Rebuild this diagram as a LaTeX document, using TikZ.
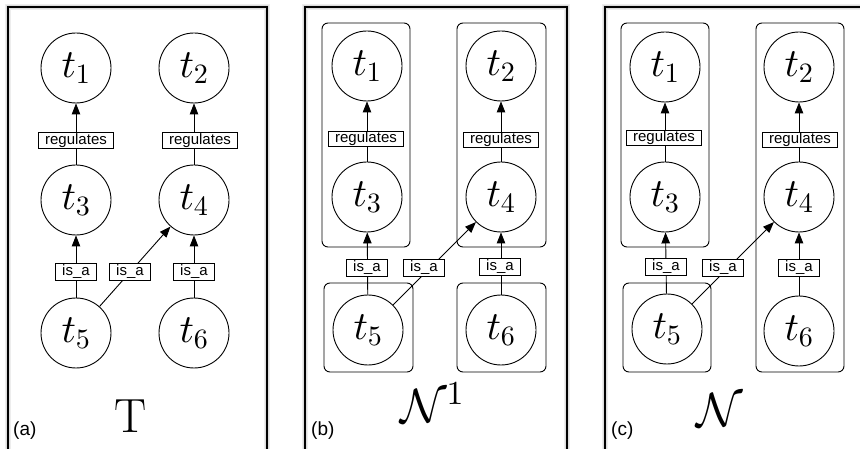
\documentclass[tikz,border=0pt]{standalone}
\usepackage{fontspec}
\newfontfamily\labfont{Liberation Sans}
% let the math fonts scale freely to large sizes
\DeclareFontShape{OML}{cmm}{m}{it}{<-> cmmi10}{}
\DeclareFontShape{OMS}{cmsy}{m}{n}{<-> cmsy10}{}
\DeclareFontShape{OT1}{cmr}{m}{n}{<-> cmr10}{}
\usetikzlibrary{arrows.meta,fit}

\begin{document}
\begin{tikzpicture}[x=1pt,y=-1pt,
  term/.style={circle, draw, line width=0.9pt, minimum size=70pt, inner sep=0pt,
               font=\fontsize{40}{48}\selectfont},
  rel/.style={draw, fill=white, line width=0.8pt, inner xsep=6.5pt, inner ysep=0.8pt,
              font=\fontsize{15}{18}\selectfont\labfont},
  isa/.style={rel, text height=11pt, text depth=4.2pt},
  regl/.style={rel, text height=10.8pt, text depth=3.2pt},
  link/.style={line width=0.9pt, -{Triangle[length=11pt,width=8.5pt]}},
  group/.style={draw, rounded corners=6pt, line width=0.9pt, inner sep=0pt},
  panel/.style={draw, line width=1.2pt},
  haze/.style={draw=black, opacity=0.07, line width=#1},
  tag/.style={font=\fontsize{19}{22}\selectfont\labfont, anchor=base west, inner sep=0pt},
  sym/.style={font=\fontsize{48}{52}\selectfont, anchor=base, inner sep=0pt},
]
\useasboundingbox (0,0) rectangle (860,449);
\clip (0,0) rectangle (860,449);

% soft-edged panel frames
\foreach \xa/\xb in {8/267, 305/567, 605/867}{
  \foreach \w in {6,3.5}{
    \draw[haze=\w pt] (\xa,7) rectangle (\xb,480);
  }
  \draw[panel] (\xa,7) rectangle (\xb,480);
}

% ---------- panel (a): the taxonomy T ----------
\node[term] (a1) at (76,68)  {$t_1$};
\node[term] (a2) at (194,68) {$t_2$};
\node[term] (a3) at (76,200) {$t_3$};
\node[term] (a4) at (194,200) {$t_4$};
\node[term] (a5) at (76,333) {$t_5$};
\node[term] (a6) at (194,333) {$t_6$};
\draw[link] (a3) -- (a1);
\draw[link] (a4) -- (a2);
\draw[link] (a5) -- (a3);
\draw[link] (a5) -- (a4);
\draw[link] (a6) -- (a4);
\node[regl] (ar1) at (76,140.5)  {regulates};
\node[regl] (ar2) at (200,140.5) {regulates};
\node[isa]  (ai1) at (76,272)  {is\_a};
\node[isa]  (ai2) at (130,272) {is\_a};
\node[isa]  (ai3) at (194,272) {is\_a};
\node[tag] (atag) at (13,435) {(a)};
\node[sym] (asym) at (131,432) {T};

% ---------- panel (b): first grouping N^1 ----------
\node[group, fit={(322,23) (410,247)}] (bg1) {};
\node[group, fit={(457,23) (546,247)}] (bg2) {};
\node[group, fit={(324,283) (413,372)}] (bg3) {};
\node[group, fit={(457,283) (546,372)}] (bg4) {};
\node[term] (b1) at (367,66)  {$t_1$};
\node[term] (b2) at (501,66)  {$t_2$};
\node[term] (b3) at (367,197) {$t_3$};
\node[term] (b4) at (501,197) {$t_4$};
\node[term] (b5) at (368,330) {$t_5$};
\node[term] (b6) at (501,330) {$t_6$};
\draw[link] (b3) -- (b1);
\draw[link] (b4) -- (b2);
\draw[link] (b5) -- (b3);
\draw[link] (b5) -- (b4);
\draw[link] (b6) -- (b4);
\node[regl] (br1) at (366,139) {regulates};
\node[regl] (br2) at (501,140) {regulates};
\node[isa]  (bi1) at (367,268) {is\_a};
\node[isa]  (bi2) at (424,268) {is\_a};
\node[isa]  (bi3) at (500,267) {is\_a};
\node[tag] (btag) at (311,435) {(b)};
\node[sym] (bsym) at (432,422) {$\mathcal{N}^1$};

% ---------- panel (c): final grouping N ----------
\node[group, fit={(621,23) (709,247)}] (cg1) {};
\node[group, fit={(756,23) (844,372)}] (cg2) {};
\node[group, fit={(623,283) (711,372)}] (cg3) {};
\node[term] (c1) at (665,67)  {$t_1$};
\node[term] (c2) at (799,67)  {$t_2$};
\node[term] (c3) at (665,197) {$t_3$};
\node[term] (c4) at (799,197) {$t_4$};
\node[term] (c5) at (667,329) {$t_5$};
\node[term] (c6) at (799,331) {$t_6$};
\draw[link] (c3) -- (c1);
\draw[link] (c4) -- (c2);
\draw[link] (c5) -- (c3);
\draw[link] (c5) -- (c4);
\draw[link] (c6) -- (c4);
\node[regl] (cr1) at (664,138) {regulates};
\node[regl] (cr2) at (800,140) {regulates};
\node[isa]  (ci1) at (666,267) {is\_a};
\node[isa]  (ci2) at (723,268) {is\_a};
\node[isa]  (ci3) at (799,268) {is\_a};
\node[tag] (ctag) at (611,435) {(c)};
\node[sym] (csym) at (720,426) {$\mathcal{N}$};
\end{tikzpicture}
\end{document}
